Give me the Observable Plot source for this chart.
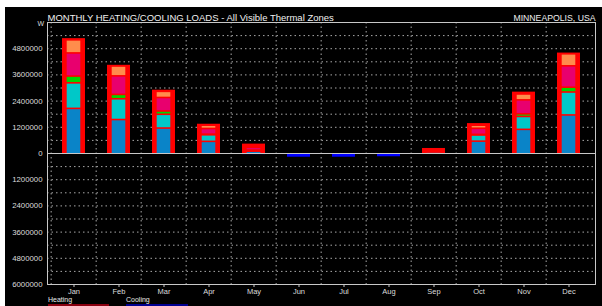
<!DOCTYPE html>
<html>
<head>
<meta charset="utf-8">
<script src="https://cdn.jsdelivr.net/npm/d3@7"></script>
<script src="https://cdn.jsdelivr.net/npm/@observablehq/plot@0.6"></script>
<style>
  html, body { margin: 0; padding: 0; background: #fff; }
  #wrap { position: absolute; left: 5px; top: 7px; width: 597px; height: 299px; background: #000; overflow: hidden; }
  #chart svg { display: block; }
  .leg { position: absolute; font-family: "Liberation Sans", Arial, sans-serif; font-size: 7px; line-height: 7px; color: #e8e8e8; }
  .leg span.line { position: absolute; left: 0; top: 8px; height: 2px; }
</style>
</head>
<body>
<div id="wrap">
  <div id="chart"></div>
  <div class="leg" style="left:43px; top:289px; width:61px;">Heating<span class="line" style="width:61px; background:#8a0010;"></span></div>
  <div class="leg" style="left:121px; top:289px; width:62px;">Cooling<span class="line" style="width:62px; background:#000090;"></span></div>
</div>
<script>
const months = ["Jan","Feb","Mar","Apr","May","Jun","Jul","Aug","Sep","Oct","Nov","Dec"];
// total heating load (W) per month
const heating = [5260000, 4040000, 2900000, 1340000, 430000, 0, 0, 0, 230000, 1370000, 2810000, 4600000];
// total cooling load (W, negative) per month
const cooling = [0, 0, 0, 0, -50000, -170000, -170000, -150000, -20000, 0, 0, 0];
// thermal zone heating contributions, stacked bottom to top
const zoneNames = ["Zone 1", "Zone 2", "Zone 3", "Zone 4", "Zone 5"];
const zoneColors = ["#0a84c8", "#00c8c8", "#00d400", "#e8006e", "#ff8c4c"];
const zone1 = [2080000, 1570000, 1180000, 570000, 120000, 0, 0, 0, 80000, 580000, 1120000, 1780000];
const zone2 = [1170000, 950000, 630000, 300000, 50000, 0, 0, 0, 30000, 280000, 590000, 1050000];
const zone3 = [310000, 200000, 150000, 30000, 0, 0, 0, 0, 0, 30000, 120000, 220000];
const zone4 = [1060000, 850000, 620000, 260000, 130000, 0, 0, 0, 70000, 280000, 640000, 980000];
const zone5 = [600000, 450000, 280000, 150000, 50000, 0, 0, 0, 20000, 140000, 270000, 550000];
const zones = [zone1, zone2, zone3, zone4, zone5];
const yTicks = [-6000000, -4800000, -3600000, -2400000, -1200000, 0, 1200000, 2400000, 3600000, 4800000];
const yGrid = d3.range(-6000000, 6000001, 600000);
const titleText = "MONTHLY HEATING/COOLING LOADS - All Visible Thermal Zones";
const locationText = "MINNEAPOLIS, USA";
const unitText = "W";

const heatData = months.map((m, i) => ({month: m, value: heating[i]})).filter(d => d.value > 0);
const coolData = months.map((m, i) => ({month: m, value: cooling[i]})).filter(d => d.value < 0);
const zoneData = [];
zones.forEach((z, k) => z.forEach((v, i) => { if (v > 0) zoneData.push({month: months[i], zone: zoneNames[k], color: zoneColors[k], value: v}); }));

const fmt = d => String(Math.abs(d));
const step = 548 / 12;

const chart = Plot.plot({
  width: 597,
  height: 299,
  marginLeft: 42,
  marginRight: 7,
  marginTop: 15,
  marginBottom: 22,
  style: {background: "#000", color: "#ddd", fontFamily: "'Liberation Sans', Arial, sans-serif", fontSize: "7px"},
  x: {type: "band", domain: months, paddingInner: 0.5, paddingOuter: 0.25, label: null},
  y: {domain: [-6000000, 6000000], label: null},
  marks: [
    Plot.ruleY(yGrid, {stroke: "#a8a8a8", strokeDasharray: "1.5,3", strokeWidth: 1}),
    Plot.gridX(months, {stroke: "#a8a8a8", strokeDasharray: "1.5,3", strokeOpacity: 1, dx: -step / 2}),
    Plot.barY(heatData, {x: "month", y: "value", fill: "#ff0000"}),
    Plot.barY(zoneData, {x: "month", y: "value", z: "zone", fill: "color", insetLeft: 4.7, insetRight: 4.7, insetTop: 1.6}),
    Plot.barY(coolData, {x: "month", y: "value", fill: "#0000ff"}),
    Plot.ruleY([0], {stroke: "#c8c8c8", strokeWidth: 1}),
    Plot.frame({stroke: "#c8c8c8"}),
    Plot.axisY(yTicks, {tickFormat: fmt, tickSize: 0, tickPadding: 5, fill: "#dcdcdc", fontSize: 7.8}),
    Plot.axisX({tickSize: 3, tickPadding: 1, stroke: "#c8c8c8", fill: "#dcdcdc", fontSize: 7.5}),
    Plot.text([titleText], {frameAnchor: "top-left", dy: -2, lineAnchor: "bottom", textAnchor: "start", fill: "#f0f0f0", fontSize: 9.5}),
    Plot.text([locationText], {frameAnchor: "top-right", dy: -2, lineAnchor: "bottom", textAnchor: "end", fill: "#f0f0f0", fontSize: 8.7}),
    Plot.text([unitText], {frameAnchor: "top-left", dx: -10, dy: 1, lineAnchor: "middle", textAnchor: "start", fill: "#dcdcdc", fontSize: 7})
  ]
});
document.getElementById("chart").appendChild(chart);
</script>
</body>
</html>
